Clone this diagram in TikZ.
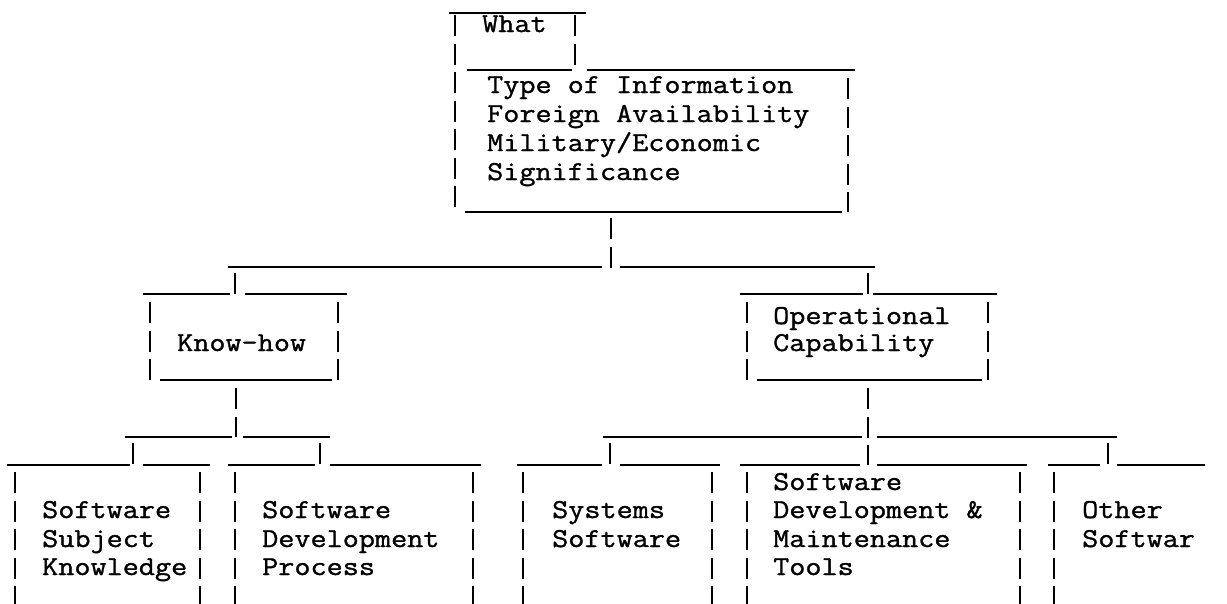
\documentclass[tikz,border=0pt]{standalone}
\usepackage{fontspec}
\newfontfamily\tw[FakeBold=1.2,FakeStretch=1.146]{Latin Modern Mono}
\newcommand\hseg[3]{\draw[hline] (#2,#1) -- (#3,#1);}
\newcommand\vseg[3]{\draw[vline] (#1,#2) -- (#1,#3);}
\tikzset{
  hline/.style={line width=2.2pt},
  vline/.style={line width=1.6pt, dash pattern=on 21pt off 7.5pt},
  lbl/.style={anchor=base west, inner sep=0pt, font=\tw\fontsize{27.3}{28.5}\selectfont}
}
\begin{document}
\begin{tikzpicture}[x=1pt,y=-1pt]
\fill[white] (0,0) rectangle (1227,603);
\useasboundingbox (0,0) rectangle (1227,603);
% ---- top box ----
\hseg{13}{449}{586}
\hseg{70}{467}{572}
\hseg{70}{587}{855}
\hseg{212}{465}{842}
\vseg{455}{15}{212}
\vseg{575}{15}{72}
\vseg{848}{78}{212}
\node[lbl] (what) at (482,32) {What};
\node[lbl] (t1) at (487,93) {Type of Information};
\node[lbl] (t2) at (487,122) {Foreign Availability};
\node[lbl] (t3) at (487,151) {Military/Economic};
\node[lbl] (t4) at (487,180) {Significance};
% ---- trunk ----
\vseg{611}{218}{268}
\hseg{267}{228}{602}
\hseg{267}{620}{875}
% ---- Know-how box ----
\vseg{235}{273}{295}
\hseg{294}{143}{230}
\hseg{294}{245}{347}
\vseg{150}{302}{380}
\vseg{338}{302}{380}
\hseg{380}{160}{332}
\node[lbl] (kh) at (177,351) {Know-how};
% ---- Operational box ----
\vseg{868}{273}{295}
\hseg{294}{740}{863}
\hseg{294}{873}{997}
\vseg{747}{302}{380}
\vseg{988}{302}{380}
\hseg{380}{757}{982}
\node[lbl] (op1) at (773,324) {Operational};
\node[lbl] (op2) at (773,351) {Capability};
% ---- second level trunks ----
\vseg{236}{388}{437}
\hseg{437}{125}{232}
\hseg{437}{243}{330}
\vseg{868}{388}{465}
\hseg{437}{603}{862}
\hseg{437}{877}{1117}
\vseg{133}{443}{465}
\vseg{320}{443}{465}
\vseg{610}{443}{465}
\vseg{1108}{443}{465}
% ---- bottom box tops ----
\hseg{465}{7}{130}
\hseg{465}{143}{210}
\hseg{465}{228}{315}
\hseg{465}{330}{481}
\hseg{465}{517}{602}
\hseg{465}{620}{720}
\hseg{465}{740}{860}
\hseg{465}{877}{1027}
\hseg{465}{1048}{1100}
\hseg{465}{1117}{1205}
% ---- bottom box sides ----
\foreach \x in {15,200,235,473,523,712,747,1020,1054}{\vseg{\x}{472}{610}}
% ---- bottom texts ----
\node[lbl] (a1) at (42,518) {Software};
\node[lbl] (a2) at (42,547) {Subject};
\node[lbl] (a3) at (42,575) {Knowledge};
\node[lbl] (b1) at (262,518) {Software};
\node[lbl] (b2) at (262,547) {Development};
\node[lbl] (b3) at (262,575) {Process};
\node[lbl] (c1) at (552,518) {Systems};
\node[lbl] (c2) at (552,547) {Software};
\node[lbl] (d1) at (773,490) {Software};
\node[lbl] (d2) at (773,518) {Development \&};
\node[lbl] (d3) at (773,547) {Maintenance};
\node[lbl] (d4) at (773,575) {Tools};
\node[lbl] (e1) at (1082,518) {Other};
\node[lbl] (e2) at (1082,547) {Softwar};
\end{tikzpicture}
\end{document}
